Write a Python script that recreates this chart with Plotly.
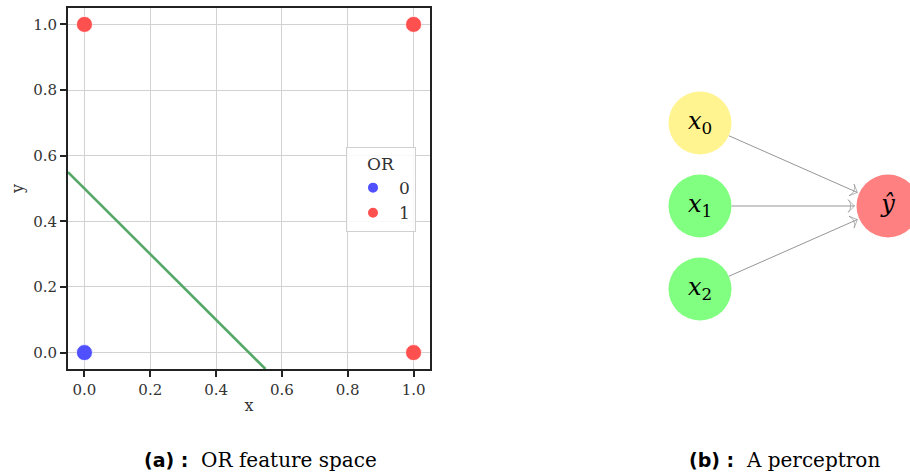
import math
import plotly.graph_objects as go

# ---------------- data ----------------
# OR truth table (feature space)
pt_x = [0, 0, 1, 1]
pt_y = [0, 1, 0, 1]
pt_or = [0, 1, 1, 1]
classes = [0, 1]

# decision boundary  y = 0.5 - x  (clipped to the axes range)
line_x = [-0.05, 0.55]
line_y = [0.55, -0.05]

tick_vals = [0.0, 0.2, 0.4, 0.6, 0.8, 1.0]
tick_text = ["0.0", "0.2", "0.4", "0.6", "0.8", "1.0"]

# perceptron diagram
node_names = ["x0", "x1", "x2", "yhat"]
node_text = ["<i>x</i><sub>0</sub>", "<i>x</i><sub>1</sub>",
             "<i>x</i><sub>2</sub>", "<i>ŷ</i>"]
node_layer = [0, 0, 0, 1]
node_row = [0, 1, 2, 1]
edges = [("x0", "yhat"), ("x1", "yhat"), ("x2", "yhat")]

# ---------------- styles ----------------
W, H = 910, 476
SERIF = "DejaVu Serif, serif"
class_colors = {0: "#5050ff", 1: "#ff5050"}
node_colors = ["#fff48f", "#80ff80", "#80ff80", "#ff8080"]
LAYER_X0, LAYER_DX = 700, 188
ROW_Y0, ROW_DY = 123, 83
NODE_D = 63
EDGE_COLOR = "#8a8a8a"

fig = go.Figure()

for c in classes:
    xs = [x for x, o in zip(pt_x, pt_or) if o == c]
    ys = [y for y, o in zip(pt_y, pt_or) if o == c]
    fig.add_trace(go.Scatter(
        x=xs, y=ys, mode="markers", name=str(c),
        marker=dict(size=16, color=class_colors[c], line=dict(color="white", width=0.8)),
        xaxis="x", yaxis="y", cliponaxis=False,
    ))

fig.add_trace(go.Scatter(
    x=line_x, y=line_y, mode="lines", showlegend=False,
    line=dict(color="#55a868", width=2.6), xaxis="x", yaxis="y",
))

# perceptron nodes (positions in pixel-like units of the hidden x2/y2 axes)
nx = [LAYER_X0 + LAYER_DX * l for l in node_layer]
ny = [ROW_Y0 + ROW_DY * r for r in node_row]
pos = {n: (x, y) for n, x, y in zip(node_names, nx, ny)}

# edges: line from source edge to target edge with an open arrow head
for a, b in edges:
    (x0, y0), (x1, y1) = pos[a], pos[b]
    d = math.hypot(x1 - x0, y1 - y0)
    ux, uy = (x1 - x0) / d, (y1 - y0) / d
    r0, r1 = NODE_D / 2, NODE_D / 2 + 2
    fig.add_trace(go.Scatter(
        x=[x0 + ux * r0, x1 - ux * r1], y=[y0 + uy * r0, y1 - uy * r1],
        mode="lines+markers", showlegend=False, hoverinfo="skip",
        line=dict(color=EDGE_COLOR, width=0.9),
        marker=dict(symbol="arrow-wide-open", size=[0, 9], angleref="previous",
                    color=EDGE_COLOR, line=dict(color=EDGE_COLOR, width=0.9)),
        xaxis="x2", yaxis="y2",
    ))

fig.add_trace(go.Scatter(
    x=nx, y=ny, mode="markers+text", text=node_text, textposition="middle center",
    textfont=dict(family=SERIF, size=24, color="black"),
    marker=dict(size=NODE_D, color=node_colors, line=dict(width=0)),
    showlegend=False, xaxis="x2", yaxis="y2", hoverinfo="skip",
))

axis_common = dict(
    range=[-0.05, 1.05], tickvals=tick_vals, ticktext=tick_text,
    showgrid=True, gridcolor="#d2d2d2", gridwidth=1.2,
    showline=True, linecolor="#222222", linewidth=2, mirror=True,
    ticks="outside", ticklen=6, tickwidth=1.5, tickcolor="#222222",
    zeroline=False, tickfont=dict(family=SERIF, size=15, color="#333333"),
)

fig.update_layout(
    width=W, height=H, margin=dict(l=0, r=0, t=0, b=0),
    paper_bgcolor="white", plot_bgcolor="white",
    font=dict(family=SERIF, size=15, color="#333333"),
    xaxis=dict(domain=[68 / W, 430 / W], anchor="y",
               title=dict(text="x", standoff=2, font=dict(family=SERIF, size=16)),
               **axis_common),
    yaxis=dict(domain=[1 - 369 / H, 1 - 8 / H], anchor="x",
               title=dict(text="y", standoff=6, font=dict(family=SERIF, size=16)),
               **axis_common),
    xaxis2=dict(domain=[0.6, 1.0], range=[0.6 * W, W], anchor="y2", visible=False),
    yaxis2=dict(domain=[0.15, 1.0], range=[0.85 * H, 0], anchor="x2", visible=False),
    legend=dict(
        x=346 / W, y=1 - 147 / H, xanchor="left", yanchor="top",
        bgcolor="rgba(255,255,255,0.85)", bordercolor="#d0d0d0", borderwidth=1,
        title=dict(text="OR", side="top center", font=dict(family=SERIF, size=17)),
        font=dict(family=SERIF, size=17), itemsizing="constant", itemwidth=42,
        tracegroupgap=0,
    ),
    showlegend=True,
)

cap_style = "font-family:DejaVu Sans;font-weight:bold;font-size:19px"
fig.add_annotation(
    x=142 / W, y=1 - 460 / H, xref="paper", yref="paper", showarrow=False,
    xanchor="left", yanchor="middle",
    text=f"<span style='{cap_style}'>(a) :</span>  OR feature space",
    font=dict(family=SERIF, size=20, color="black"),
)
fig.add_annotation(
    x=687 / W, y=1 - 460 / H, xref="paper", yref="paper", showarrow=False,
    xanchor="left", yanchor="middle",
    text=f"<span style='{cap_style}'>(b) :</span>  A perceptron",
    font=dict(family=SERIF, size=20, color="black"),
)

fig.write_html("out.html")
